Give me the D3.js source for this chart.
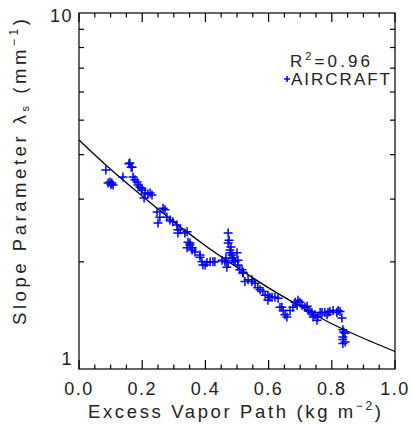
<!DOCTYPE html>
<html><head><meta charset="utf-8">
<script src="https://cdn.jsdelivr.net/npm/d3@7"></script>
<style>
body{margin:0;background:#fff}
svg{display:block}
text{font-family:"Liberation Sans",Arial,sans-serif;fill:#222}
</style>
</head><body><svg id="c" width="412" height="433"></svg>
<script>
// Aircraft observations: excess vapor path (kg m^-2) and slope parameter (mm^-1)
const evp = [0.085,0.098,0.104,0.108,0.092,0.101,0.139,0.158,0.165,0.161,0.168,
  0.171,0.177,0.184,0.187,0.193,0.199,0.199,0.209,0.218,0.225,0.231,0.206,
  0.247,0.266,0.272,0.256,0.278,0.288,0.297,0.25,0.310,0.313,0.320,
  0.335,0.313,0.342,0.345,0.351,0.342,0.358,0.367,0.351,0.358,
  0.383,0.389,0.392,0.405,0.415,0.424,0.383,0.399,0.430,
  0.453,0.462,0.472,0.472,0.478,0.478,0.484,0.487,0.472,0.468,0.494,0.503,0.516,0.519,0.475,0.481,0.465,0.490,
  0.500,0.503,0.509,0.519,
  0.535,0.547,0.557,0.566,0.573,0.582,0.525,0.547,
  0.598,0.598,0.611,0.620,0.630,0.589,0.604,
  0.642,0.646,0.652,0.658,0.636,0.668,0.677,0.684,0.690,0.693,0.699,0.706,
  0.715,0.722,0.725,0.731,0.737,0.741,0.747,0.753,0.756,0.763,0.769,0.778,0.785,0.788,0.794,0.804,0.816,0.820,0.826,0.832,
  0.835,0.842,0.835,0.835,0.842,0.835,0.838];
const slope = [3.62,3.35,3.33,3.29,3.33,3.30,3.46,3.77,3.69,3.79,3.69,
  3.46,3.40,3.35,3.29,3.24,3.22,3.18,3.12,3.10,3.12,3.08,3.02,
  2.76,2.83,2.80,2.67,2.67,2.62,2.59,2.57,2.54,2.46,2.46,
  2.41,2.41,2.43,2.27,2.26,2.19,2.16,2.13,2.23,2.19,
  2.06,2.00,1.96,1.99,2.00,2.00,2.09,1.96,2.00,
  2.02,2.00,2.41,2.26,2.16,2.12,2.09,2.05,1.99,1.93,2.00,1.96,1.90,1.87,2.30,2.20,2.05,2.02,
  2.12,2.02,1.90,1.86,
  1.78,1.78,1.74,1.69,1.67,1.65,1.76,1.76,
  1.61,1.56,1.59,1.59,1.58,1.61,1.59,
  1.49,1.46,1.42,1.40,1.49,1.46,1.49,1.54,1.51,1.56,1.54,1.51,
  1.49,1.50,1.46,1.45,1.44,1.40,1.42,1.37,1.40,1.44,1.44,1.44,1.42,1.44,1.45,1.46,1.44,1.46,1.45,1.39,
  1.29,1.26,1.23,1.21,1.19,1.18,1.27];

// Fitted curve
const fitX = [0.0,0.1,0.2,0.3,0.4,0.5,0.6,0.7,0.8,0.9,1.0];
const fitY = [4.40,3.64,3.06,2.59,2.22,1.93,1.69,1.50,1.34,1.22,1.12];

const xTicks = [0.0,0.2,0.4,0.6,0.8,1.0];
const xTickLabels = ["0.0","0.2","0.4","0.6","0.8","1.0"];
const yTicks = [1,10];
const yTickLabels = ["1","10"];
const yMinor = [2,3,4,5,6,7,8,9];
const legendR2 = "0.96";
const legendName = "AIRCRAFT";

const svg = d3.select("#c");
const L = 79, R = 395, T = 13, B = 369;
const x = d3.scaleLinear().domain([0,1]).range([L,R]);
const y = d3.scaleLog().domain([1,10]).range([B,T]);
const blue = "#0000ee";

// fit curve
const line = d3.line().x(d=>x(d[0])).y(d=>y(d[1])).curve(d3.curveMonotoneX);
svg.append("path").datum(fitX.map((v,i)=>[v,fitY[i]]))
  .attr("d",line).attr("fill","none").attr("stroke","#000").attr("stroke-width",1.3);

// markers
const ms = 4.5;
svg.append("g").selectAll("path").data(evp.map((v,i)=>[v,slope[i]])).join("path")
  .attr("d",d=>{const cx=x(d[0]), cy=y(d[1]);return `M${cx-ms},${cy}H${cx+ms}M${cx},${cy-ms}V${cy+ms}`;})
  .attr("stroke",blue).attr("stroke-width",1.5).attr("fill","none");

// axes: box and ticks
const minorX = d3.range(0,1.0001,0.05).filter(v=>Math.abs(v*5-Math.round(v*5))>1e-6);
const gAx = svg.append("g").attr("stroke","#000").attr("stroke-width",1.2).attr("fill","none");
gAx.append("rect").attr("x",L).attr("y",T).attr("width",R-L).attr("height",B-T);
xTicks.forEach(v=>{
  gAx.append("line").attr("x1",x(v)).attr("x2",x(v)).attr("y1",B).attr("y2",B-9);
  gAx.append("line").attr("x1",x(v)).attr("x2",x(v)).attr("y1",T).attr("y2",T+9);
});
minorX.forEach(v=>{
  gAx.append("line").attr("x1",x(v)).attr("x2",x(v)).attr("y1",B).attr("y2",B-4.5);
  gAx.append("line").attr("x1",x(v)).attr("x2",x(v)).attr("y1",T).attr("y2",T+4.5);
});
yMinor.forEach(v=>{
  gAx.append("line").attr("x1",L).attr("x2",L+5).attr("y1",y(v)).attr("y2",y(v));
  gAx.append("line").attr("x1",R).attr("x2",R-5).attr("y1",y(v)).attr("y2",y(v));
});

// tick labels
svg.append("g").selectAll("text").data(xTicks).join("text")
  .attr("x",d=>x(d)).attr("y",395).attr("text-anchor","middle")
  .attr("font-size",18).attr("letter-spacing",1.5)
  .text((d,i)=>xTickLabels[i]);
svg.append("g").selectAll("text").data(yTicks).join("text")
  .attr("x",L-6).attr("y",d=>d===10? y(d)+9 : y(d)-4).attr("text-anchor","end")
  .attr("font-size",18).attr("letter-spacing",1.5)
  .text((d,i)=>yTickLabels[i]);

// x title
const xt = svg.append("text").attr("x",88).attr("y",418).attr("font-size",18.5)
  .attr("textLength",293).attr("lengthAdjust","spacing");
xt.append("tspan").text("Excess Vapor Path (kg m");
xt.append("tspan").attr("dy",-8).attr("font-size",12).text("−2");
xt.append("tspan").attr("dy",8).text(")");

// y title
const yt = svg.append("text").attr("transform","translate(26,325) rotate(-90)").attr("font-size",18.5)
  .attr("textLength",306).attr("lengthAdjust","spacing");
yt.append("tspan").text("Slope Parameter λ");
yt.append("tspan").attr("dy",3).attr("font-size",11).text("s");
yt.append("tspan").attr("dy",-3).text(" (mm");
yt.append("tspan").attr("dy",-8).attr("font-size",12).text("−1");
yt.append("tspan").attr("dy",8).text(")");

// legend
const r2 = svg.append("text").attr("x",290).attr("y",67).attr("font-size",17)
  .attr("textLength",80).attr("lengthAdjust","spacing");
r2.append("tspan").text("R");
r2.append("tspan").attr("dy",-7).attr("font-size",11).text("2");
r2.append("tspan").attr("dy",7).text("="+legendR2);
svg.append("path").attr("d",`M${x(0.649)},79H${x(0.649)+6}M${x(0.649)+3},76V82`).attr("stroke",blue).attr("stroke-width",1.5);
svg.append("text").attr("x",291).attr("y",85).attr("font-size",17)
  .attr("textLength",99).attr("lengthAdjust","spacing").text(legendName);
</script></body></html>
